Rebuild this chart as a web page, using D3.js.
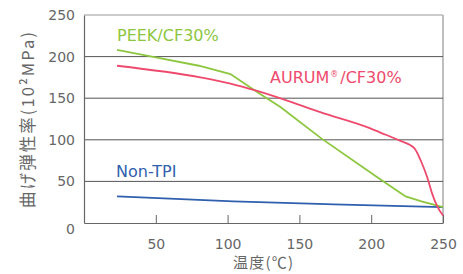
<!DOCTYPE html>
<html>
<head>
<meta charset="utf-8">
<script src="https://cdn.jsdelivr.net/npm/d3@7"></script>
<style>
  body { margin: 0; background: #fff; }
  text { font-family: "DejaVu Sans", sans-serif; }
</style>
</head>
<body>
<div id="chart"></div>
<script>
// temperature (°C) / flexural modulus (10^2 MPa)
const peekTemp  = [23, 50, 80, 102, 120, 137, 165, 206, 224, 235, 250];
const peekVal   = [208, 199, 189, 179, 158, 139, 102, 53, 32, 26, 19];
const aurumTemp = [23, 81, 102, 120, 150, 165, 199, 206, 220, 230, 235, 239, 242.5, 246, 250];
const aurumVal  = [189, 175, 167.5, 159, 142, 133, 114, 109, 99, 90, 73, 55, 35, 20, 9];
const tpiTemp   = [23, 104, 174, 250];
const tpiVal    = [32, 26, 22.4, 19.2];
const xTicks = [50, 100, 150, 200, 250];
const yTicks = [0, 50, 100, 150, 200, 250];

const width = 463, height = 274;
const margin = { top: 15, right: 20, bottom: 51, left: 84 };

const svg = d3.select("#chart").append("svg")
    .attr("width", width)
    .attr("height", height);

const x = d3.scaleLinear().domain([0, 250]).range([margin.left, width - margin.right]);
const y = d3.scaleLinear().domain([0, 250]).range([height - margin.bottom, margin.top]);

// frame (top/right lighter)
svg.append("line")
    .attr("x1", x(0)).attr("x2", x(250))
    .attr("y1", y(250)).attr("y2", y(250))
    .style("stroke", "#999").style("stroke-width", 1.2);
svg.append("line")
    .attr("x1", x(250)).attr("x2", x(250))
    .attr("y1", y(250)).attr("y2", y(0))
    .style("stroke", "#aaa").style("stroke-width", 1.5);

// gridlines
svg.selectAll(".grid")
    .data(yTicks.filter(d => d > 0 && d < 250))
    .enter().append("line")
    .attr("x1", x(0)).attr("x2", x(250))
    .attr("y1", d => y(d)).attr("y2", d => y(d))
    .style("stroke", "#555").style("stroke-width", 1);

// axes
const xAxis = svg.append("g")
    .attr("transform", `translate(0,${y(0)})`)
    .call(d3.axisBottom(x).tickValues(xTicks).tickSizeInner(-8).tickSizeOuter(0).tickPadding(16));
const yAxis = svg.append("g")
    .attr("transform", `translate(${x(0)},0)`)
    .call(d3.axisLeft(y).tickValues(yTicks).tickSize(0).tickPadding(9));

[xAxis, yAxis].forEach(g => {
  g.select(".domain").style("stroke", "#666").style("stroke-width", 1.2);
  g.selectAll(".tick line").style("stroke", "#666");
  g.selectAll(".tick text")
      .style("font-size", "14px")
      .style("fill", "#666")
      .style("font-family", "'DejaVu Sans', sans-serif");
});
yAxis.selectAll(".tick text").filter(d => d === 0).attr("y", 6);

// lines
const series = [
  { t: tpiTemp, v: tpiVal, color: "#2f5fad", curve: d3.curveMonotoneX },
  { t: peekTemp, v: peekVal, color: "#8dc63f", curve: d3.curveLinear },
  { t: aurumTemp, v: aurumVal, color: "#ee4a6d", curve: d3.curveMonotoneX }
];
series.forEach(s => {
  const line = d3.line()
      .x(d => x(d[0]))
      .y(d => y(d[1]))
      .curve(s.curve);
  svg.append("path")
      .datum(s.t.map((t, i) => [t, s.v[i]]))
      .attr("d", line)
      .style("fill", "none")
      .style("stroke", s.color)
      .style("stroke-width", 1.8);
});

// series labels
svg.append("text").attr("x", 117).attr("y", 41)
    .style("font-size", "16px").style("fill", "#8dc63f").text("PEEK/CF30%");
const au = svg.append("text").attr("x", 270).attr("y", 83)
    .style("font-size", "16px").style("fill", "#ee4a6d");
au.append("tspan").text("AURUM");
au.append("tspan").attr("dx", 1).attr("dy", -6).style("font-size", "8px").text("®");
au.append("tspan").attr("dx", 2).attr("dy", 6).text("/CF30%");
svg.append("text").attr("x", 116).attr("y", 177)
    .style("font-size", "16px").style("fill", "#2f5fad").text("Non-TPI");

// axis titles
svg.append("text")
    .attr("x", 233).attr("y", 268)
    .attr("textLength", 60).attr("lengthAdjust", "spacing")
    .style("font-size", "15px").style("fill", "#666")
    .style("font-family", "'Noto Sans CJK JP', sans-serif")
    .text("温度(℃)");
svg.append("text")
    .attr("transform", "translate(34,208) rotate(-90)")
    .attr("textLength", 176).attr("lengthAdjust", "spacing")
    .style("font-size", "16.5px").style("fill", "#666")
    .style("font-family", "'Noto Sans CJK JP', sans-serif")
    .text("曲げ弾性率(10²MPa)");
</script>
</body>
</html>
